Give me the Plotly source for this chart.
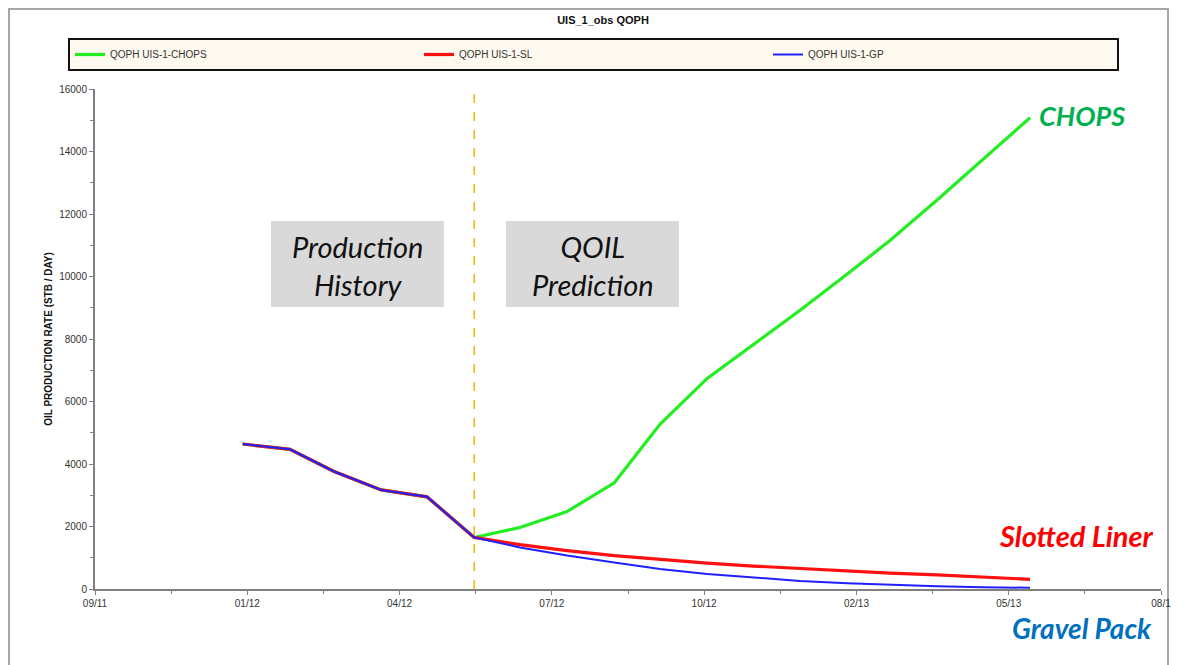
import plotly.graph_objects as go

# ---------------- data ----------------
dates = ["2012-01-01", "2012-02-01", "2012-03-01", "2012-04-01", "2012-05-01",
         "2012-06-01", "2012-07-01", "2012-08-01", "2012-09-01", "2012-10-01",
         "2012-11-01", "2012-12-01", "2013-01-01", "2013-02-01", "2013-03-01",
         "2013-04-01", "2013-05-01", "2013-06-01"]
qoph_chops = [4640, 4470, 3760, 3170, 2950, 1650, 1970, 2480, 3400, 5270,
              6740, 7800, 8920, 10080, 11150, 12450, 13750, 15080]
qoph_sl = [4640, 4470, 3760, 3170, 2950, 1650, 1420, 1230, 1070, 940,
           830, 735, 650, 575, 510, 450, 390, 310]
qoph_gp = [4640, 4470, 3760, 3170, 2950, 1650, 1330, 1070, 850, 640,
           480, 360, 260, 185, 130, 85, 55, 40]
series_names = ["QOPH UIS-1-CHOPS", "QOPH UIS-1-SL", "QOPH UIS-1-GP"]
prediction_start = "2012-06-01"

x_tick_dates = ["2011-09-26", "2012-01-04", "2012-04-13", "2012-07-22",
                "2012-10-30", "2013-02-07", "2013-05-18", "2013-08-26"]
x_tick_labels = ["09/11", "01/12", "04/12", "07/12", "10/12", "02/13", "05/13", "08/1"]
y_ticks = [0, 2000, 4000, 6000, 8000, 10000, 12000, 14000, 16000]

# ---------------- layout geometry (reference pixels) ----------------
W, H = 1189, 665
OFF = 8                      # page body margin in the browser
L, R, T, B = 95, 1161, 89, 589
pw, ph = R - L, B - T

def px(x):
    return (x - L) / pw

def py(y):
    return (B - y) / ph

def cx(x):
    return (x - OFF) / W

def cy(y):
    return 1 - (y - OFF) / H

FONT = "Liberation Sans Narrow, Liberation Sans, Arial, sans-serif"
CAL = "Lato, Carlito, Open Sans, sans-serif"

fig = go.Figure()
colors = ["#22EE22", "#FF1010", "#2020FF"]
widths = [3.2, 3.2, 2.0]
for name, vals, c, w in zip(series_names, [qoph_chops, qoph_sl, qoph_gp], colors, widths):
    fig.add_trace(go.Scatter(x=dates, y=vals, mode="lines", name=name,
                             line=dict(color=c, width=w)))

# dashed separator
fig.add_shape(type="line", xref="x", yref="y", x0=prediction_start, x1=prediction_start,
              y0=0, y1=16000, line=dict(color="#F2B705", width=1.5, dash="dash"))

# outer frame
fig.add_shape(type="rect", xref="paper", yref="paper",
              x0=px(9), x1=px(1168), y0=py(680), y1=py(9),
              line=dict(color="#A6A6A6", width=2), layer="below")

# grey boxes with italic text
for x0, x1, txt in [(271, 444, "Production<br>History"), (506, 679, "QOIL<br>Prediction")]:
    fig.add_shape(type="rect", xref="paper", yref="paper",
                  x0=px(x0), x1=px(x1), y0=py(307), y1=py(221),
                  fillcolor="#D9D9D9", line=dict(width=0), layer="below")
    fig.add_annotation(xref="paper", yref="paper", x=px((x0 + x1) / 2), y=py(265),
                       xanchor="center", yanchor="middle",
                       text="<i>" + txt + "</i>", showarrow=False,
                       font=dict(family=CAL, size=29, color="#111111"))

# coloured labels
for txt, lx, ly, col, sz in [("CHOPS", 1082, 115, "#00B050", 27),
                             ("Slotted Liner", 1076, 535, "#FF0000", 29),
                             ("Gravel Pack", 1082, 628, "#0070C0", 28)]:
    fig.add_annotation(xref="paper", yref="paper", x=px(lx), y=py(ly),
                       xanchor="center", yanchor="middle",
                       text="<b><i>" + txt + "</i></b>", showarrow=False,
                       font=dict(family=CAL, size=sz, color=col))

axis_common = dict(showgrid=False, zeroline=False, showline=True, linecolor="#808080",
                   linewidth=2, ticks="outside", ticklen=4, tickcolor="#808080",
                   tickfont=dict(family=FONT, size=10, color="#333333"))

fig.update_layout(
    width=W, height=H,
    margin=dict(l=L - OFF, r=W - (R - OFF), t=T - OFF, b=H - (B - OFF)),
    paper_bgcolor="white", plot_bgcolor="white",
    title=dict(text="<b>UIS_1_obs QOPH</b>", x=cx(603), xanchor="center",
               y=cy(20), yanchor="middle", yref="container",
               font=dict(family=FONT, size=11, color="#111111")),
    legend=dict(orientation="h", xref="container", yref="container",
                x=cx(68), y=cy(38), xanchor="left", yanchor="top",
                bgcolor="#FDF9EE", bordercolor="#111111", borderwidth=2,
                entrywidth=304, entrywidthmode="pixels", itemwidth=30,
                font=dict(family=FONT, size=10, color="#333333")),
    xaxis=dict(type="date", range=[x_tick_dates[0], x_tick_dates[-1]],
               tickmode="array", tickvals=x_tick_dates, ticktext=x_tick_labels,
               minor=dict(ticks="outside", ticklen=3, tickcolor="#808080",
                          tick0=x_tick_dates[0], dtick=50 * 86400000),
               **axis_common),
    yaxis=dict(range=[0, 16000], tickmode="array", tickvals=y_ticks, tickformat="d",
               minor=dict(ticks="outside", ticklen=3, tickcolor="#808080", dtick=1000),
               title=dict(text="<b>OIL PRODUCTION RATE (STB / DAY)</b>", standoff=5,
                          font=dict(family=FONT, size=10, color="#111111")),
               **axis_common),
    showlegend=True,
)

fig.write_html("out.html")
